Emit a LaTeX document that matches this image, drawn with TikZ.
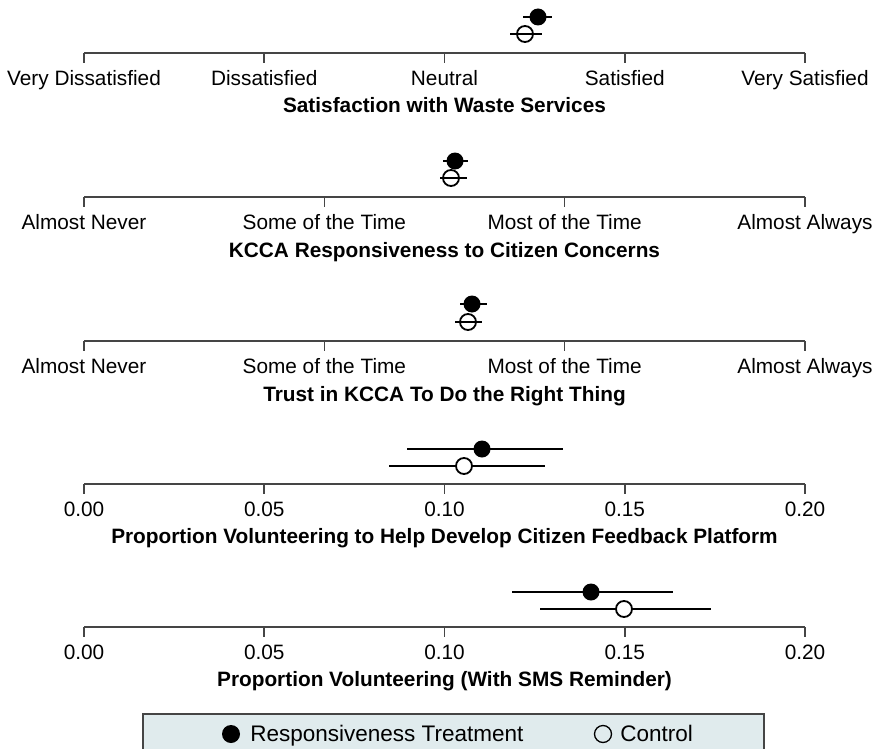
\documentclass[tikz,border=0pt]{standalone}
\usepackage{fontspec}
\setmainfont{Liberation Sans}
\usetikzlibrary{calc}
\definecolor{axiscol}{rgb}{0.27,0.27,0.27}
\definecolor{legendfill}{rgb}{0.88,0.92,0.93}
\tikzset{
  axisline/.style={line width=1.6pt,axiscol},
  ticklabel/.style={anchor=base,inner sep=0pt,font=\fontsize{20.8}{25}\selectfont},
  paneltitle/.style={anchor=base,inner sep=0pt,font=\fontsize{20.8}{25}\selectfont\bfseries},
  legendtext/.style={anchor=base west,inner sep=0pt,font=\fontsize{22.5}{27}\selectfont},
  cibar/.style={line width=2.8pt,black},
  treatdot/.style={circle,fill=black,inner sep=0pt,minimum size=17pt},
  ctrldot/.style={circle,draw=black,line width=1.8pt,inner sep=0pt,minimum size=16pt}
}

\begin{document}
\begin{tikzpicture}[x=1pt,y=-1pt,thick]
  \useasboundingbox (0,0) rectangle (875,749);
  \clip (0,0) rectangle (875,749);

  % satisfaction scale
  \draw [axisline] (84,53) -- (805,53);
  \foreach \lab [count=\i from 0] in {Very Dissatisfied,Dissatisfied,Neutral,Satisfied,Very Satisfied}
  {
    \draw [axisline] (84+180.25*\i,53) -- ++(0,10);
    \node [ticklabel] (sat\i) at (84+180.25*\i,86) {\lab};
  }
  \node [paneltitle] (sattitle) at (444.5,113) {Satisfaction with Waste Services};

  % two frequency scales
  \foreach \ay/\ttl/\nm in {197/KCCA Responsiveness to Citizen Concerns/resp,341/Trust in KCCA To Do the Right Thing/trust}
  {
    \draw [axisline] (84,\ay) -- (805,\ay);
    \foreach \lab [count=\i from 0] in {Almost Never,Some of the Time,Most of the Time,Almost Always}
    {
      \draw [axisline] (84+240.33*\i,\ay) -- ++(0,10);
      \node [ticklabel] (\nm\i) at (84+240.33*\i,\ay+32) {\lab};
    }
    \node [paneltitle] (\nm title) at (444.5,\ay+60) {\ttl};
  }

  % two proportion scales
  \foreach \ay/\ttl/\nm in {484/Proportion Volunteering to Help Develop Citizen Feedback Platform/plat,627/Proportion Volunteering (With SMS Reminder)/sms}
  {
    \draw [axisline] (84,\ay) -- (805,\ay);
    \foreach \lab [count=\i from 0] in {0.00,0.05,0.10,0.15,0.20}
    {
      \draw [axisline] (84+180.25*\i,\ay) -- ++(0,10);
      \node [ticklabel] (\nm\i) at (84+180.25*\i,\ay+32) {\lab};
    }
    \node [paneltitle] (\nm title) at (444.5,\ay+59) {\ttl};
  }

  % estimates: treatment (filled) and control (open)
  \draw [cibar] (523,17) -- (552,17);
  \node [treatdot] (satT) at (538,17) {};
  \node [ctrldot] (satC) at (525,34) {};
  \draw [cibar] (510,34) -- (542,34);

  \draw [cibar] (443,161) -- (468,161);
  \node [treatdot] (respT) at (455,161) {};
  \node [ctrldot] (respC) at (451,178) {};
  \draw [cibar] (440,178) -- (467,178);

  \draw [cibar] (460,304) -- (487,304);
  \node [treatdot] (trustT) at (472,304) {};
  \node [ctrldot] (trustC) at (468,322) {};
  \draw [cibar] (455,322) -- (482,322);

  \draw [cibar] (407,449) -- (563,449);
  \node [treatdot] (platT) at (482,449) {};
  \draw [cibar] (389,466) -- (545,466);
  \node [ctrldot,fill=white] (platC) at (464,466) {};

  \draw [cibar] (512,592) -- (673,592);
  \node [treatdot] (smsT) at (591,592) {};
  \draw [cibar] (540,609) -- (711,609);
  \node [ctrldot,fill=white] (smsC) at (624,609) {};

  % legend
  \draw [line width=1.6pt,axiscol,fill=legendfill] (143,714) rectangle (764,760);
  \node [treatdot,minimum size=18pt] (legT) at (231,734) {};
  \node [legendtext] (legTtext) at (250,741) {Responsiveness Treatment};
  \node [ctrldot,line width=1.3pt,minimum size=17pt] (legC) at (603,734) {};
  \node [legendtext] (legCtext) at (620,741) {Control};

\end{tikzpicture}
\end{document}
